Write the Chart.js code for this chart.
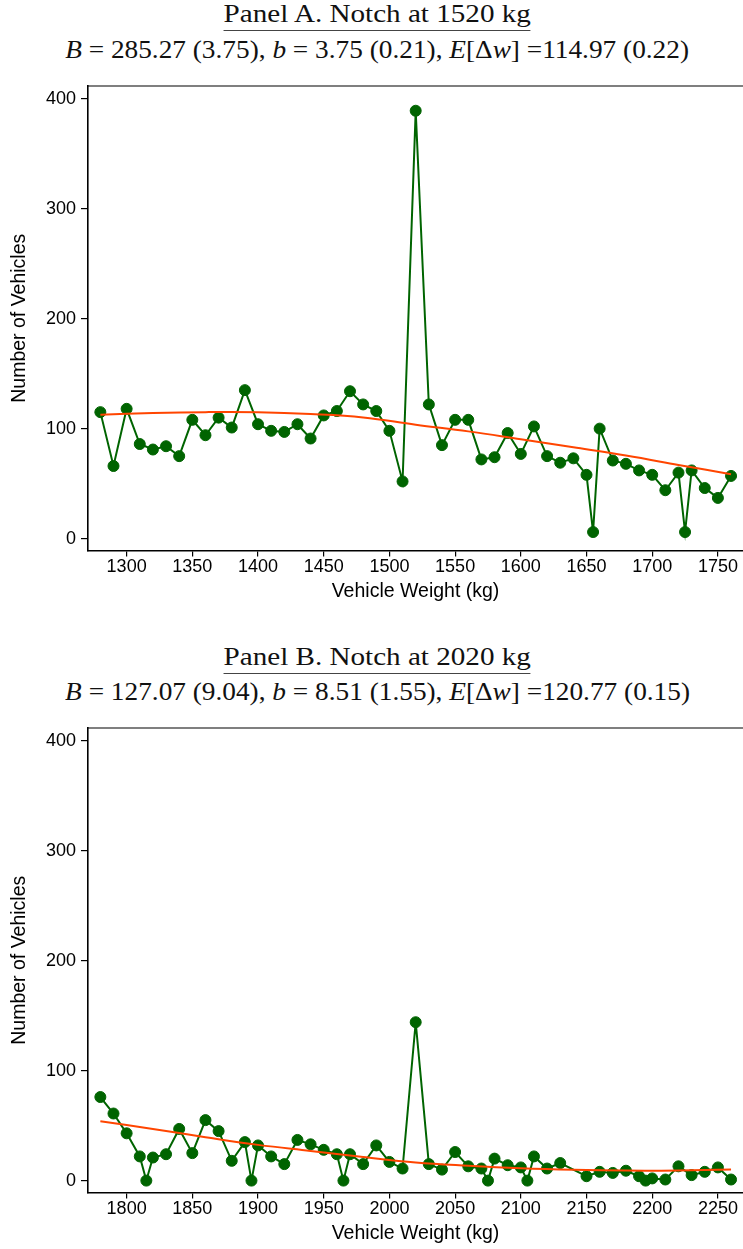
<!DOCTYPE html>
<html>
<head>
<meta charset="utf-8">
<script src="https://cdn.jsdelivr.net/npm/chart.js@4.4.1/dist/chart.umd.min.js"></script>
<style>
  body { margin: 0; background: #fff; }
  #page { position: relative; width: 743px; height: 1249px; overflow: hidden; background: #fff; }
  .ttl { position: absolute; left: 6px; width: 743px; text-align: center; white-space: nowrap;
         font-family: 'Liberation Serif', 'Times New Roman', serif; font-size: 26px; line-height: 26px; color: #111; }
  .ttl span { display: inline-block; }
  .head span { border-bottom: 1.5px solid #444; padding-bottom: 3px; transform: scaleX(1.12); }
  .sub span { transform: scaleX(1.05); }
  canvas { position: absolute; left: 0; }
  #chartA { top: 60px; }
  #chartB { top: 702px; }
</style>
</head>
<body>
<div id="page">
  <div class="ttl head" style="top:1px"><span>Panel A. Notch at 1520 kg</span></div>
  <div class="ttl sub" style="top:37px"><span><i>B</i> = 285.27 (3.75), <i>b</i> = 3.75 (0.21), <i>E</i>[Δ<i>w</i>] =114.97 (0.22)</span></div>
  <canvas id="chartA" width="743" height="547"></canvas>

  <div class="ttl head" style="top:644px"><span>Panel B. Notch at 2020 kg</span></div>
  <div class="ttl sub" style="top:679px"><span><i>B</i> = 127.07 (9.04), <i>b</i> = 8.51 (1.55), <i>E</i>[Δ<i>w</i>] =120.77 (0.15)</span></div>
  <canvas id="chartB" width="743" height="547"></canvas>
</div>

<script>
// Panel A: notch at 1520 kg
const weightsA = [1280, 1290, 1300, 1310, 1320, 1330, 1340, 1350, 1360, 1370,
  1380, 1390, 1400, 1410, 1420, 1430, 1440, 1450, 1460, 1470,
  1480, 1490, 1500, 1510, 1520, 1530, 1540, 1550, 1560, 1570,
  1580, 1590, 1600, 1610, 1620, 1630, 1640, 1650, 1655, 1660,
  1670, 1680, 1690, 1700, 1710, 1720, 1725, 1730, 1740, 1750, 1760];
const countsA = [115, 66, 118, 86, 81, 84, 75, 108, 94, 110,
  101, 135, 104, 98, 97, 104, 91, 112, 116, 134,
  122, 116, 98, 52, 389, 122, 85, 108, 108, 72,
  74, 96, 77, 102, 75, 69, 73, 58, 6, 100,
  71, 68, 62, 58, 44, 60, 6, 62, 46, 37, 57];
const fitWeightsA = [1280, 1320, 1360, 1400, 1440, 1480, 1520, 1560, 1600, 1640, 1680, 1720, 1760];
const fitCountsA = [112.7, 114.2, 115.0, 114.9, 113.3, 110.2, 103.5, 97.5, 90.3, 83.0, 75.5, 67.0, 58.5];
const xTicksA = [1300, 1350, 1400, 1450, 1500, 1550, 1600, 1650, 1700, 1750];

// Panel B: notch at 2020 kg
const weightsB = [1780, 1790, 1800, 1810, 1815, 1820, 1830, 1840, 1850, 1860,
  1870, 1880, 1890, 1895, 1900, 1910, 1920, 1930, 1940, 1950,
  1960, 1965, 1970, 1980, 1990, 2000, 2010, 2020, 2030, 2040,
  2050, 2060, 2070, 2075, 2080, 2090, 2100, 2105, 2110, 2120,
  2130, 2150, 2160, 2170, 2180, 2190, 2195, 2200, 2210, 2220,
  2230, 2240, 2250, 2260];
const countsB = [76, 61, 43, 22, 0, 21, 24, 47, 25, 55,
  45, 18, 35, 0, 32, 22, 15, 37, 33, 28,
  24, 0, 24, 15, 32, 17, 11, 144, 15, 10,
  26, 13, 11, 0, 20, 14, 12, 0, 22, 11,
  16, 4, 8, 7, 9, 4, 0, 2, 1, 13,
  5, 8, 12, 1];
const fitWeightsB = [1780, 1820, 1860, 1900, 1940, 1980, 2020, 2060, 2100, 2140, 2180, 2220, 2260];
const fitCountsB = [54.0, 47.0, 39.5, 32.5, 27.0, 21.5, 16.5, 13.5, 11.2, 9.8, 9.1, 9.2, 10.0];
const xTicksB = [1800, 1850, 1900, 1950, 2000, 2050, 2100, 2150, 2200, 2250];

const yTicks = [0, 100, 200, 300, 400];

const green = '#006400';
const orange = '#ff4500';

Chart.defaults.font.family = "'Liberation Sans', Arial, sans-serif";
Chart.defaults.font.size = 18;
Chart.defaults.color = '#000';

const topLine = {
  id: 'topLine',
  afterDraw(chart) {
    const { ctx, chartArea } = chart;
    ctx.save();
    ctx.strokeStyle = '#000';
    ctx.lineWidth = 1.2;
    ctx.beginPath();
    ctx.moveTo(chartArea.left, chartArea.top);
    ctx.lineTo(chartArea.right, chartArea.top);
    ctx.stroke();
    ctx.restore();
  }
};

function toPoints(xs, ys) {
  return xs.map((x, i) => ({ x: x, y: ys[i] }));
}

function drawPanel(id, xs, ys, fxs, fys, xTicks, xMin, xMax) {
  const ctx = document.getElementById(id).getContext('2d');
  return new Chart(ctx, {
    type: 'line',
    data: {
      datasets: [
        {
          data: toPoints(fxs, fys),
          borderColor: orange,
          borderWidth: 2,
          pointRadius: 0,
          tension: 0.4,
          order: 0
        },
        {
          data: toPoints(xs, ys),
          borderColor: green,
          backgroundColor: green,
          borderWidth: 2,
          pointRadius: 5.5,
          pointBorderWidth: 1,
          pointBorderColor: green,
          tension: 0,
          order: 1
        }
      ]
    },
    options: {
      responsive: false,
      animation: false,
      layout: { autoPadding: false, padding: { top: 26, right: 0, bottom: 0, left: 0 } },
      plugins: { legend: { display: false }, tooltip: { enabled: false } },
      scales: {
        x: {
          type: 'linear',
          min: xMin,
          max: xMax,
          afterBuildTicks: s => { s.ticks = xTicks.map(v => ({ value: v })); },
          afterFit: s => { s.height = 56.5; s.paddingRight = 0; s.paddingLeft = 0; },
          grid: { drawOnChartArea: false, drawTicks: true, tickLength: 6, color: '#000', lineWidth: 1.2 },
          border: { display: true, color: '#000', width: 1.6 },
          ticks: { padding: 0, maxRotation: 0, autoSkip: false, callback: v => String(v) },
          title: { display: true, text: 'Vehicle Weight (kg)', padding: { top: 0, bottom: 4 }, font: { size: 19.5, lineHeight: 1.2 } }
        },
        y: {
          min: -10.8,
          max: 411.5,
          afterBuildTicks: s => { s.ticks = yTicks.map(v => ({ value: v })); },
          afterFit: s => { s.width = 88; },
          grid: { drawOnChartArea: false, drawTicks: true, tickLength: 7, color: '#000', lineWidth: 1.2 },
          border: { display: true, color: '#000', width: 1.6 },
          ticks: { padding: 5, callback: v => String(v) },
          title: { display: true, text: 'Number of Vehicles', padding: { top: 8, bottom: 0 }, font: { size: 19.5, lineHeight: 1.2 } }
        }
      }
    },
    plugins: [topLine]
  });
}

drawPanel('chartA', weightsA, countsA, fitWeightsA, fitCountsA, xTicksA, 1270.6, 1769.1);
drawPanel('chartB', weightsB, countsB, fitWeightsB, fitCountsB, xTicksB, 1770.6, 2269.1);
</script>
</body>
</html>
